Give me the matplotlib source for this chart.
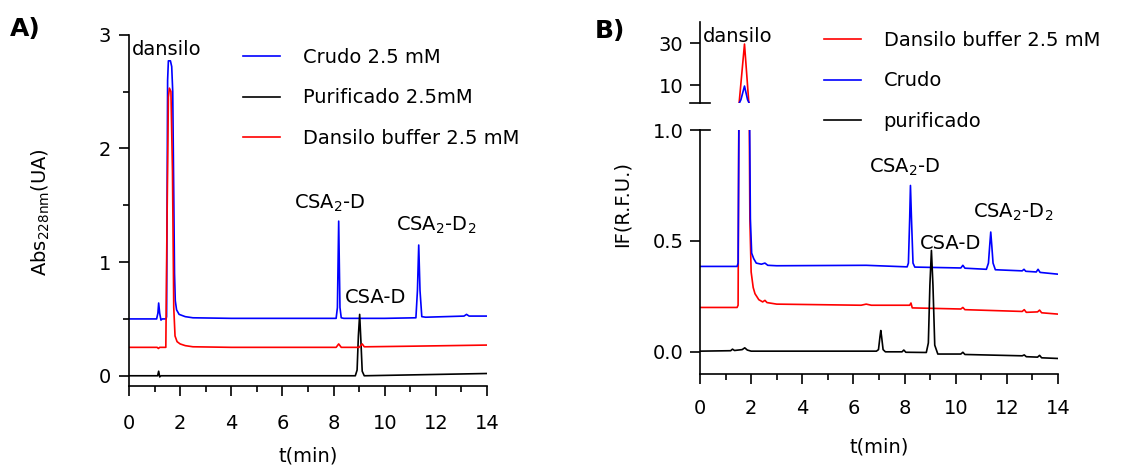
import matplotlib
matplotlib.use("Agg")
import matplotlib.pyplot as plt
from matplotlib.ticker import MultipleLocator, FormatStrFormatter

plt.rcParams['font.family'] = ['DejaVu Sans']
plt.rcParams['mathtext.default'] = 'regular'

# ---------------- Datos panel A (Abs 228 nm) ----------------
# Crudo 2.5 mM (azul)
tA_crudo = [0, 1.08, 1.13, 1.16, 1.20, 1.25, 1.30, 1.45, 1.47, 1.51, 1.54, 1.62, 1.67, 1.71, 1.75,
            1.78, 1.81, 1.86, 1.96, 2.2, 2.5, 4, 6, 8.10, 8.15, 8.20, 8.25, 8.30, 8.4, 10, 11.22,
            11.28, 11.33, 11.38, 11.45, 11.6, 13.1, 13.2, 13.3, 14]
yA_crudo = [0.50, 0.50, 0.55, 0.64, 0.55, 0.49, 0.50, 0.50, 0.52, 2.6, 2.77, 2.77, 2.72, 2.5, 1.6,
            0.9, 0.66, 0.58, 0.54, 0.52, 0.51, 0.505, 0.505, 0.505, 0.60, 1.36, 0.60, 0.51, 0.505,
            0.505, 0.51, 0.75, 1.15, 0.75, 0.52, 0.515, 0.525, 0.54, 0.525, 0.525]

# Purificado 2.5mM (negro)
tA_puri = [0, 1.12, 1.16, 1.20, 1.25, 2, 8.85, 8.92, 8.97, 9.02, 9.07, 9.12, 9.2, 14]
yA_puri = [0.0, 0.0, 0.04, -0.01, 0.0, 0.0, 0.0, 0.05, 0.35, 0.54, 0.30, 0.04, 0.0, 0.02]

# Dansilo buffer 2.5 mM (rojo)
tA_buffer = [0, 1.1, 1.15, 1.2, 1.44, 1.48, 1.54, 1.58, 1.64, 1.70, 1.75, 1.80, 1.88, 2.0, 2.2,
             2.5, 4, 8.1, 8.2, 8.3, 9.0, 9.12, 9.2, 9.3, 11, 14]
yA_buffer = [0.25, 0.25, 0.24, 0.25, 0.25, 1.2, 2.45, 2.53, 2.50, 1.8, 0.6, 0.35, 0.30, 0.28, 0.265,
             0.255, 0.25, 0.25, 0.28, 0.25, 0.25, 0.28, 0.255, 0.255, 0.26, 0.27]

# ---------------- Datos panel B (fluorescencia) ----------------
# Dansilo buffer 2.5 mM (rojo)
tB_buffer = [0, 1.45, 1.49, 1.53, 1.74, 1.91, 1.95, 2.0, 2.08, 2.15, 2.3, 2.45, 2.54, 2.62, 3,
             6.3, 6.5, 6.7, 8.2, 8.25, 8.3, 10.2, 10.28, 10.36, 12.6, 12.68, 12.76, 13.2, 13.28,
             13.36, 14]
yB_buffer = [0.20, 0.20, 0.21, 1.4, 29.5, 1.4, 0.6, 0.36, 0.29, 0.262, 0.235, 0.225, 0.232, 0.222,
             0.215, 0.21, 0.215, 0.21, 0.21, 0.22, 0.198, 0.193, 0.20, 0.19, 0.182, 0.19, 0.178,
             0.18, 0.188, 0.176, 0.17]

# Crudo (azul)
tB_crudo = [0, 1.45, 1.49, 1.53, 1.60, 1.74, 1.86, 1.93, 1.97, 2.02, 2.1, 2.2, 2.4, 2.54, 2.65, 3,
            6.5, 8.1, 8.15, 8.2, 8.23, 8.27, 8.33, 8.4, 10.2, 10.28, 10.36, 11.2, 11.28, 11.33,
            11.37, 11.41, 11.46, 11.55, 12.6, 12.67, 12.74, 13.15, 13.22, 13.3, 14]
yB_crudo = [0.385, 0.385, 0.40, 1.2, 3.0, 9.5, 3.0, 1.2, 0.6, 0.445, 0.42, 0.40, 0.395, 0.40, 0.39,
            0.388, 0.39, 0.383, 0.40, 0.60, 0.75, 0.60, 0.40, 0.382, 0.378, 0.39, 0.377, 0.372,
            0.40, 0.48, 0.54, 0.48, 0.40, 0.37, 0.365, 0.372, 0.363, 0.36, 0.372, 0.358, 0.35]

# purificado (negro)
tB_puri = [0, 1.2, 1.27, 1.35, 1.65, 1.75, 1.85, 2.0, 6.9, 6.98, 7.04, 7.07, 7.1, 7.16, 7.25, 7.9,
           7.97, 8.05, 8.85, 8.93, 8.99, 9.05, 9.11, 9.18, 9.3, 10.2, 10.28, 10.36, 12.6, 12.68,
           12.76, 13.2, 13.28, 13.36, 14]
yB_puri = [0.003, 0.005, 0.012, 0.006, 0.01, 0.018, 0.008, 0.003, 0.003, 0.01, 0.07, 0.096, 0.07,
           0.01, 0.0, 0.0, 0.008, -0.002, -0.003, 0.04, 0.30, 0.457, 0.30, 0.03, -0.01, -0.01,
           -0.002, -0.012, -0.018, -0.014, -0.022, -0.024, -0.016, -0.027, -0.03]

azul = '#0000ff'
rojo = '#ff0000'
negro = '#000000'
fs = 14

W, H = 1123, 470
fig = plt.figure(figsize=(W / 100, H / 100), dpi=100)


def estilo(ax, xpad, ypad):
    # solo ejes izquierdo e inferior, como en GraphPad
    ax.spines['top'].set_visible(False)
    ax.spines['right'].set_visible(False)
    ax.spines['left'].set_linewidth(1.2)
    ax.spines['bottom'].set_linewidth(1.2)
    ax.tick_params(which='major', length=7, width=1.2, labelsize=fs)
    ax.tick_params(which='minor', length=4, width=1.2)
    ax.tick_params(axis='x', which='major', pad=xpad)
    ax.tick_params(axis='y', which='major', pad=ypad)


leg_kw = dict(frameon=False, fontsize=fs, handlelength=1.9, handletextpad=1.17, labelspacing=1.1,
              borderpad=0, borderaxespad=0, bbox_transform=fig.transFigure, loc='upper left')

# ---------------- Panel A ----------------
axA = fig.add_axes([129 / W, 1 - 386 / H, 358 / W, (386 - 34.7) / H])
axA.plot(tA_crudo, yA_crudo, color=azul, lw=1.2, label='Crudo 2.5 mM')
axA.plot(tA_puri, yA_puri, color=negro, lw=1.2, label='Purificado 2.5mM')
axA.plot(tA_buffer, yA_buffer, color=rojo, lw=1.2, label='Dansilo buffer 2.5 mM')
axA.set_xlim(0, 14)
axA.set_ylim(-0.09, 3.0)
axA.xaxis.set_major_locator(MultipleLocator(2))
axA.xaxis.set_minor_locator(MultipleLocator(1))
axA.yaxis.set_major_locator(MultipleLocator(1))
axA.yaxis.set_minor_locator(MultipleLocator(0.5))
estilo(axA, 13, 6)

axA.text(0.12, 2.87, 'dansilo', fontsize=fs, ha='left', va='center')
axA.text(7.86, 1.52, 'CSA$_2$-D', fontsize=fs, ha='center', va='center')
axA.text(12.03, 1.32, 'CSA$_2$-D$_2$', fontsize=fs, ha='center', va='center')
axA.text(9.66, 0.69, 'CSA-D', fontsize=fs, ha='center', va='center')
axA.legend(bbox_to_anchor=(243 / W, 1 - 48 / H), **leg_kw)

fig.text(25 / W, 1 - 29 / H, 'A)', fontsize=18, fontweight='bold', ha='center', va='center')
fig.text(41 / W, 1 - 212 / H, 'Abs$_{228nm}$(UA)', fontsize=fs, rotation=90, ha='center', va='center')
fig.text(308 / W, 1 - 456 / H, 't(min)', fontsize=fs, ha='center', va='center')

# ---------------- Panel B (eje y cortado) ----------------
axB = fig.add_axes([700 / W, 1 - 374 / H, 358 / W, (374 - 130) / H])
axBs = fig.add_axes([700 / W, 1 - 103 / H, 358 / W, (103 - 22) / H])
axBs.patch.set_visible(False)

for ax in (axB, axBs):
    ax.plot(tB_buffer, yB_buffer, color=rojo, lw=1.2, label='Dansilo buffer 2.5 mM')
    ax.plot(tB_crudo, yB_crudo, color=azul, lw=1.2, label='Crudo')
    ax.plot(tB_puri, yB_puri, color=negro, lw=1.2, label='purificado')
    ax.set_xlim(0, 14)
    estilo(ax, 11, 5)

axB.set_ylim(-0.1, 1.0)
axB.yaxis.set_major_locator(MultipleLocator(0.5))
axB.yaxis.set_major_formatter(FormatStrFormatter('%.1f'))
axB.xaxis.set_major_locator(MultipleLocator(2))
axB.xaxis.set_minor_locator(MultipleLocator(1))

axBs.set_ylim(1.43, 40)
axBs.set_yticks([10, 30])
axBs.spines['bottom'].set_visible(False)
axBs.tick_params(axis='x', which='both', bottom=False, labelbottom=False)

# marcas del corte
axBs.plot([-10 / 358, 10 / 358], [0, 0], color=negro, lw=1.2, transform=axBs.transAxes, clip_on=False)
axB.plot([0, 10 / 358], [1, 1], color=negro, lw=1.2, transform=axB.transAxes, clip_on=False)

axBs.text(0.12, 33, 'dansilo', fontsize=fs, ha='left', va='center')
axB.text(8.0, 0.83, 'CSA$_2$-D', fontsize=fs, ha='center', va='center')
axB.text(12.25, 0.63, 'CSA$_2$-D$_2$', fontsize=fs, ha='center', va='center')
axB.text(9.8, 0.49, 'CSA-D', fontsize=fs, ha='center', va='center')
axBs.legend(bbox_to_anchor=(824 / W, 1 - 31 / H), **leg_kw)

fig.text(610 / W, 1 - 31 / H, 'B)', fontsize=18, fontweight='bold', ha='center', va='center')
fig.text(622 / W, 1 - 204 / H, 'IF(R.F.U.)', fontsize=fs, rotation=90, ha='center', va='center')
fig.text(879 / W, 1 - 447 / H, 't(min)', fontsize=fs, ha='center', va='center')

fig.savefig('out.png', dpi=100)
